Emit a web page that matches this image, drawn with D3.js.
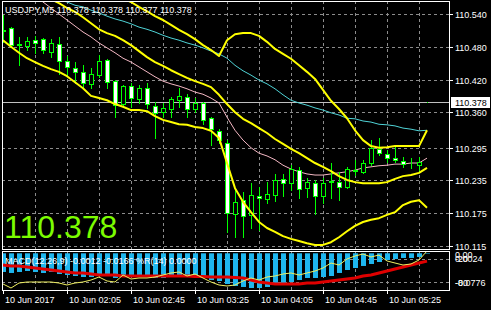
<!DOCTYPE html>
<html>
<head>
<meta charset="utf-8">
<script src="https://cdn.jsdelivr.net/npm/d3@7"></script>
<style>
body { margin: 0; background: #000; }
svg text { font-family: "Liberation Sans", Arial, sans-serif; }
</style>
</head>
<body>
<svg id="chart" width="491" height="310"></svg>
<script>
// USDJPY M5 bars, one per 5 minutes, first bar at 01:25
const open  = [110.511,110.514,110.485,110.481,110.492,110.494,110.470,110.485,110.454,110.441,
               110.434,110.412,110.428,110.456,110.417,110.375,110.408,110.384,110.404,110.371,
               110.360,110.366,110.382,110.388,110.366,110.377,110.349,110.326,110.304,110.174,
               110.199,110.172,110.207,110.201,110.208,110.238,110.230,110.254,110.221,110.230,
               110.207,110.232,110.232,110.223,110.252,110.251,110.267,110.293,110.284,110.276,
               110.271,110.267,110.263,110.378];
const high  = [110.538,110.516,110.498,110.498,110.500,110.496,110.494,110.498,110.463,110.452,
               110.446,110.441,110.465,110.458,110.419,110.410,110.414,110.410,110.414,110.379,
               110.377,110.388,110.404,110.393,110.386,110.379,110.351,110.329,110.309,110.218,
               110.214,110.230,110.223,110.232,110.247,110.247,110.263,110.260,110.240,110.236,
               110.240,110.267,110.251,110.260,110.273,110.273,110.309,110.313,110.291,110.296,
               110.278,110.276,110.278,110.378];
const low   = [110.489,110.480,110.446,110.474,110.469,110.469,110.461,110.430,110.428,110.414,
               110.404,110.404,110.425,110.404,110.351,110.370,110.370,110.377,110.368,110.313,
               110.351,110.351,110.370,110.351,110.360,110.338,110.300,110.304,110.141,110.131,
               110.131,110.148,110.144,110.194,110.197,110.207,110.218,110.203,110.205,110.174,
               110.194,110.203,110.199,110.221,110.245,110.249,110.263,110.282,110.269,110.269,
               110.260,110.258,110.251,110.378];
const close = [110.509,110.483,110.483,110.490,110.487,110.474,110.487,110.454,110.443,110.434,
               110.414,110.430,110.454,110.415,110.373,110.408,110.386,110.404,110.375,110.359,
               110.368,110.384,110.390,110.366,110.377,110.346,110.329,110.309,110.175,110.196,
               110.170,110.208,110.203,110.210,110.236,110.230,110.256,110.219,110.232,110.207,
               110.230,110.234,110.223,110.256,110.254,110.267,110.295,110.285,110.276,110.273,
               110.265,110.267,110.269,110.378];

// indicator lines on the price window (start = first bar index shown)
const upperStart = 12;
const upperBand = [110.593,110.584,110.577,110.569,110.562,110.553,110.545,110.536,110.529,110.520,
                   110.511,110.503,110.494,110.483,110.474,110.463,110.492,110.503,110.505,110.505,
                   110.500,110.489,110.476,110.467,110.458,110.446,110.434,110.421,110.401,110.381,
                   110.366,110.349,110.327,110.309,110.298,110.295,110.296,110.298,110.298,110.298,
                   110.298,110.327];
const middleStart = 5;
const middleBand = [110.577,110.567,110.560,110.551,110.544,110.534,110.523,110.512,110.505,110.500,
                    110.492,110.483,110.472,110.461,110.452,110.445,110.437,110.430,110.423,110.417,
                    110.412,110.406,110.392,110.375,110.360,110.348,110.340,110.331,110.322,110.311,
                    110.302,110.293,110.285,110.276,110.267,110.260,110.252,110.243,110.236,110.232,
                    110.230,110.230,110.230,110.232,110.238,110.243,110.245,110.249,110.258];
const lowerStart = 0;
const lowerBand = [110.492,110.480,110.469,110.459,110.452,110.445,110.439,110.434,110.426,110.415,
                   110.404,110.390,110.386,110.382,110.375,110.370,110.364,110.364,110.362,110.353,
                   110.346,110.342,110.338,110.337,110.333,110.331,110.326,110.313,110.267,110.221,
                   110.196,110.177,110.159,110.148,110.141,110.133,110.128,110.124,110.120,110.117,
                   110.117,110.122,110.131,110.142,110.152,110.159,110.163,110.166,110.172,110.177,
                   110.190,110.196,110.199,110.185];
const pinkStart = 4;
const pinkMA = [110.573,110.562,110.551,110.540,110.529,110.518,110.507,110.498,110.487,110.478,
                110.469,110.459,110.452,110.443,110.434,110.425,110.417,110.412,110.408,110.403,
                110.397,110.393,110.386,110.377,110.351,110.327,110.309,110.295,110.285,110.280,
                110.273,110.263,110.256,110.251,110.247,110.245,110.245,110.247,110.249,110.251,
                110.254,110.258,110.260,110.262,110.263,110.265,110.265,110.267,110.267,110.276];
const cyanStart = 6;
const cyanMA = [110.571,110.566,110.562,110.556,110.553,110.547,110.542,110.536,110.531,110.527,
                110.522,110.516,110.512,110.507,110.501,110.496,110.492,110.487,110.483,110.478,
                110.472,110.467,110.459,110.446,110.436,110.428,110.419,110.412,110.403,110.392,
                110.382,110.377,110.373,110.368,110.364,110.359,110.355,110.349,110.348,110.344,
                110.342,110.338,110.337,110.335,110.331,110.329,110.326,110.327];

// MACD(12,26,9) and %R(14) sub window
const macdMain = [-0.0395,-0.0416,-0.0395,-0.0374,-0.0395,-0.0416,-0.0395,-0.0438,-0.0459,-0.0480,
                  -0.0501,-0.0501,-0.0459,-0.0480,-0.0522,-0.0501,-0.0501,-0.0480,-0.0501,-0.0522,
                  -0.0522,-0.0501,-0.0480,-0.0501,-0.0501,-0.0522,-0.0565,-0.0586,-0.0649,-0.0691,
                  -0.0712,-0.0734,-0.0734,-0.0712,-0.0670,-0.0628,-0.0607,-0.0565,-0.0522,-0.0522,
                  -0.0501,-0.0480,-0.0416,-0.0353,-0.0311,-0.0268,-0.0226,-0.0184,-0.0142,-0.0121,
                  -0.0099,-0.0099,-0.0078,-0.0012];
const macdSignal = [-0.0247,-0.0268,-0.0268,-0.0290,-0.0311,-0.0332,-0.0353,-0.0374,-0.0395,-0.0416,
                    -0.0416,-0.0438,-0.0459,-0.0459,-0.0459,-0.0480,-0.0480,-0.0480,-0.0480,-0.0480,
                    -0.0480,-0.0480,-0.0480,-0.0480,-0.0490,-0.0490,-0.0501,-0.0501,-0.0501,-0.0510,
                    -0.0522,-0.0565,-0.0607,-0.0628,-0.0649,-0.0649,-0.0649,-0.0649,-0.0628,-0.0628,
                    -0.0607,-0.0586,-0.0565,-0.0543,-0.0522,-0.0480,-0.0459,-0.0416,-0.0374,-0.0332,
                    -0.0290,-0.0247,-0.0205,-0.0166];
const williamsR = [-84.6,-94.9,-82.1,-79.5,-79.5,-79.5,-79.5,-82.1,-87.2,-82.1,
                  -79.5,-74.4,-66.7,-76.9,-79.5,-61.5,-71.8,-69.2,-69.2,-66.7,
                  -61.5,-56.4,-53.8,-64.1,-59.0,-69.2,-79.5,-87.2,-89.7,-87.2,
                  -76.9,-69.2,-74.4,-66.7,-64.1,-59.0,-56.4,-61.5,-56.4,-51.3,
                  -43.6,-30.8,-35.9,-20.5,-12.8,-7.7,-15.4,-10.3,-25.6,-30.8,
                  -35.9,-33.3,-23.1,0];

// axes
const priceTicks = ['110.540','110.480','110.420','110.360','110.295','110.235','110.175','110.115'];
const bidPrice = 110.378;
const timeLabels = ['10 Jun 2017','10 Jun 02:05','10 Jun 02:45','10 Jun 03:25','10 Jun 04:05','10 Jun 04:45','10 Jun 05:25'];
const timeLabelBars = [0, 8, 16, 24, 32, 40, 48];
const wprLevels = [-20, -80];
const title = 'USDJPY,M5  110.378 110.378 110.377 110.378';
const subTitle = 'MACD(12,26,9) -0.0012 -0.0166  %R(14) 0.0000';

const mainBox = {left: 2, right: 449, top: 1, bottom: 249};
const subBox = {left: 2, right: 449, top: 251, bottom: 290};
const gridColor = '#8c8c8c';

const svg = d3.select('#chart');
const x = d3.scaleLinear().domain([0, open.length - 1]).range([3, 427]);
const y = d3.scaleLinear().domain([110.540, 110.115]).range([14, 246]);
const macdY = d3.scaleLinear().domain([0, -0.0776]).range([253.3, 290]);
const wprY = d3.scaleLinear().domain([0, -100]).range([251, 290]);

const px = v => Math.round(v) + 0.5;

drawMain();
drawSub();
drawAxes();

function drawMain()
{
    svg.append('clipPath').attr('id', 'mainClip')
        .append('rect')
        .attr('x', mainBox.left).attr('y', mainBox.top)
        .attr('width', mainBox.right - mainBox.left).attr('height', mainBox.bottom - mainBox.top);

    const g = svg.append('g').attr('clip-path', 'url(#mainClip)');

    //grid
    const gridG = g.append('g')
        .attr('stroke', gridColor).attr('stroke-dasharray', '3,3').attr('stroke-width', 1);
    for (let i = 4; i < open.length; i += 4) {
        gridG.append('line')
            .attr('x1', px(x(i))).attr('x2', px(x(i)))
            .attr('y1', mainBox.top).attr('y2', mainBox.bottom);
    }
    priceTicks.forEach(t => {
        gridG.append('line')
            .attr('x1', mainBox.left).attr('x2', mainBox.right)
            .attr('y1', px(y(+t))).attr('y2', px(y(+t)));
    });

    //big price text
    g.append('text')
        .attr('x', 4).attr('y', 238)
        .attr('fill', '#7cfc00')
        .style('font-size', '32px')
        .text(bidPrice.toFixed(3));

    //bid line
    g.append('line')
        .attr('x1', mainBox.left).attr('x2', mainBox.right)
        .attr('y1', px(y(bidPrice))).attr('y2', px(y(bidPrice)))
        .attr('stroke', '#c0c0c0').attr('stroke-width', 1);

    //moving averages and bands
    const drawSeries = (data, start, color, width) => {
        g.append('path')
            .datum(data)
            .attr('fill', 'none')
            .attr('stroke', color)
            .attr('stroke-width', width)
            .attr('stroke-linejoin', 'round')
            .attr('d', d3.line().x((d, i) => x(i + start)).y(d => y(d)));
    };
    drawSeries(cyanMA, cyanStart, '#4fd3d6', 1);
    drawSeries(pinkMA, pinkStart, '#f4b8c4', 1);

    //candles
    const candleG = g.append('g');
    open.forEach((o, i) => {
        const c = close[i];
        const cx = Math.round(x(i));
        candleG.append('line')
            .attr('x1', cx + 0.5).attr('x2', cx + 0.5)
            .attr('y1', Math.round(y(high[i]))).attr('y2', Math.round(y(low[i])) + 1)
            .attr('stroke', '#00ff00');
        const top = Math.round(y(Math.max(o, c)));
        const bot = Math.round(y(Math.min(o, c)));
        candleG.append('rect')
            .attr('x', cx - 1.5).attr('y', top + 0.5)
            .attr('width', 4).attr('height', bot - top)
            .attr('fill', c < o ? '#ffffff' : '#000000')
            .attr('stroke', '#00ff00').attr('stroke-width', 1);
    });

    drawSeries(upperBand, upperStart, '#ffff00', 2);
    drawSeries(middleBand, middleStart, '#ffff00', 2);
    drawSeries(lowerBand, lowerStart, '#ffff00', 2);

    //frame
    svg.append('rect')
        .attr('x', mainBox.left + 0.5).attr('y', mainBox.top + 0.5)
        .attr('width', mainBox.right - mainBox.left).attr('height', mainBox.bottom - mainBox.top)
        .attr('fill', 'none').attr('stroke', '#ffffff');

    svg.append('text')
        .attr('x', 5).attr('y', 13)
        .attr('fill', '#ffffff')
        .style('font-size', '9px')
        .text(title);
}

function drawSub()
{
    svg.append('clipPath').attr('id', 'subClip')
        .append('rect')
        .attr('x', subBox.left).attr('y', subBox.top)
        .attr('width', subBox.right - subBox.left).attr('height', subBox.bottom - subBox.top);

    const g = svg.append('g').attr('clip-path', 'url(#subClip)');

    const gridG = g.append('g')
        .attr('stroke', gridColor).attr('stroke-dasharray', '3,3').attr('stroke-width', 1);
    for (let i = 4; i < open.length; i += 4) {
        gridG.append('line')
            .attr('x1', px(x(i))).attr('x2', px(x(i)))
            .attr('y1', subBox.top).attr('y2', subBox.bottom);
    }
    wprLevels.forEach(l => {
        gridG.append('line')
            .attr('x1', subBox.left).attr('x2', subBox.right)
            .attr('y1', px(wprY(l))).attr('y2', px(wprY(l)));
    });

    //MACD histogram
    g.append('g').selectAll('rect')
        .data(macdMain)
        .join('rect')
            .attr('x', (d, i) => Math.round(x(i)) - 2)
            .attr('y', macdY(0))
            .attr('width', 5)
            .attr('height', d => macdY(d) - macdY(0))
            .attr('fill', '#1eb6ee');

    g.append('path')
        .datum(macdSignal)
        .attr('fill', 'none')
        .attr('stroke', '#e00000')
        .attr('stroke-width', 3)
        .attr('d', d3.line().x((d, i) => x(i)).y(d => macdY(d)));

    g.append('path')
        .datum(williamsR)
        .attr('fill', 'none')
        .attr('stroke', '#f0f060')
        .attr('stroke-width', 1)
        .attr('d', d3.line().x((d, i) => x(i)).y(d => wprY(d)));

    svg.append('rect')
        .attr('x', subBox.left + 0.5).attr('y', subBox.top + 0.5)
        .attr('width', subBox.right - subBox.left).attr('height', subBox.bottom - subBox.top)
        .attr('fill', 'none').attr('stroke', '#ffffff');

    svg.append('text')
        .attr('x', 5).attr('y', 264)
        .attr('fill', '#ffffff')
        .style('font-size', '9px')
        .text(subTitle);
}

function drawAxes()
{
    //price scale
    const axG = svg.append('g');
    priceTicks.forEach(t => {
        const ty = px(y(+t));
        axG.append('line')
            .attr('x1', mainBox.right).attr('x2', mainBox.right + 4)
            .attr('y1', ty).attr('y2', ty)
            .attr('stroke', '#ffffff');
        axG.append('text')
            .attr('x', 455).attr('y', ty + 3.5)
            .attr('fill', '#ffffff')
            .style('font-size', '9px')
            .text(t);
    });

    //bid label
    const by = y(bidPrice);
    axG.append('rect')
        .attr('x', 451).attr('y', Math.round(by) - 5)
        .attr('width', 39).attr('height', 11)
        .attr('fill', '#ffffff');
    axG.append('text')
        .attr('x', 455).attr('y', Math.round(by) + 4)
        .attr('fill', '#000000')
        .style('font-size', '9px')
        .text(bidPrice.toFixed(3));

    //sub window scale labels
    const subLabels = [
        {text: '0.00', y: 254},
        {text: '0.0024', y: wprY(-20)},
        {text: '-20', y: wprY(-20)},
        {text: '-0.0776', y: wprY(-80)},
        {text: '-80', y: wprY(-80)}
    ];
    subLabels.forEach(l => {
        axG.append('text')
            .attr('x', 455).attr('y', l.y + 3.5)
            .attr('fill', '#ffffff')
            .style('font-size', '9px')
            .text(l.text);
    });

    //time scale
    timeLabels.forEach((t, i) => {
        const tx = Math.round(x(timeLabelBars[i]));
        axG.append('line')
            .attr('x1', tx + 0.5).attr('x2', tx + 0.5)
            .attr('y1', subBox.bottom).attr('y2', subBox.bottom + 4)
            .attr('stroke', '#ffffff');
        axG.append('text')
            .attr('x', tx + 2).attr('y', 303)
            .attr('fill', '#ffffff')
            .style('font-size', '9px')
            .text(t);
    });
}
</script>
</body>
</html>
